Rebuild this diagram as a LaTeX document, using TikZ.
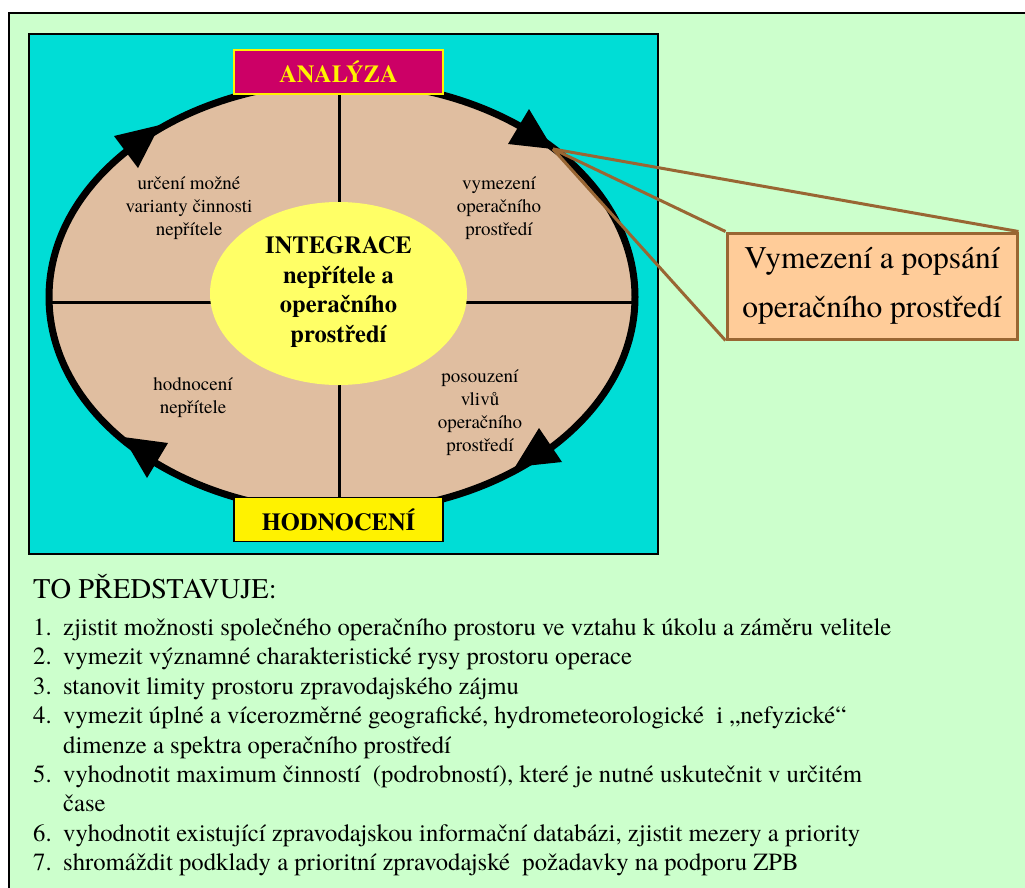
\documentclass[tikz,border=0pt]{standalone}
\usepackage{fontspec}
\setmainfont{TeX Gyre Termes}
\usetikzlibrary{shapes.geometric}
\definecolor{bggreen}{RGB}{204,255,204}
\definecolor{cyanbg}{RGB}{0,221,214}
\definecolor{peach}{RGB}{224,190,160}
\definecolor{lightyellow}{RGB}{255,255,102}
\definecolor{magentabox}{RGB}{204,0,102}
\definecolor{calloutfill}{RGB}{255,204,153}
\definecolor{brownline}{RGB}{153,102,51}
\begin{document}
\begin{tikzpicture}[x=1pt,y=-1pt,
  smalltxt/.style={align=center, font=\fontsize{19}{23}\selectfont, inner sep=0pt},
  boldtxt/.style={align=center, font=\fontsize{24.5}{29.7}\selectfont\bfseries, inner sep=0pt},
  listtxt/.style={anchor=base west, font=\fontsize{24.7}{29}\selectfont, inner sep=0pt},
  arrowhead/.style={fill=black},
  callline/.style={draw=brownline, line width=3pt},
  labelbox/.style={minimum width=209pt, minimum height=44pt, inner sep=0pt, line width=1.8pt, font=\fontsize{24.5}{28}\selectfont\bfseries}
]
\useasboundingbox (0,0) rectangle (1025,887);
\fill[white] (0,0) rectangle (1025,887);
\begin{scope}
  \clip (0,0) rectangle (1025,887);
  \draw[line width=1.5pt, fill=bggreen] (9,13) rectangle (1045,905);
\end{scope}
% cyan panel
\draw[line width=2.5pt, fill=cyanbg] (29,34) rectangle (658,554);
% big ellipse fill
\fill[peach] (342,297) ellipse [x radius=293pt, y radius=215pt];
% dividers
\draw[line width=3pt] (339,85) -- (339,510);
\draw[line width=3pt] (52,302) -- (632,302);
% inner yellow ellipse
\node[ellipse, fill=lightyellow, minimum width=257pt, minimum height=183pt, inner sep=0pt] (integ) at (338.5,293.5) {};
\node[boldtxt] (integtxt) at (338.5,292) {INTEGRACE\\nepřítele a\\operačního\\prostředí};
% ellipse outline
\draw[line width=7pt] (342,297) ellipse [x radius=293pt, y radius=215pt];
% arrowheads
\fill[arrowhead] (114,136) -- (160,125) -- (138,168) -- cycle;
\fill[arrowhead] (529,109) -- (553,149) -- (508,144) -- cycle;
\fill[arrowhead] (539,428) -- (562,462) -- (515,467) -- cycle;
\fill[arrowhead] (168,443) -- (147,478) -- (123,437) -- cycle;
% phase boxes
\node[labelbox, draw=yellow, fill=magentabox, text=yellow] (analyza) at (338.5,72) {ANALÝZA};
\node[labelbox, draw=black, fill=yellow, text=black] (hodnoceni) at (338.5,519.5) {HODNOCENÍ};
% quadrant texts
\node[smalltxt] (q1) at (189,208) {určení možné\\varianty činnosti\\nepřítele};
\node[smalltxt] (q2) at (499,208) {vymezení\\operačního\\prostředí};
\node[smalltxt] (q3) at (193,398) {hodnocení\\nepřítele};
\node[smalltxt] (q4) at (480,413) {posouzení\\vlivů\\operačního\\prostředí};
% callout
\coordinate (co) at (553,149);
\node[draw=brownline, fill=calloutfill, line width=3pt, minimum width=290pt, minimum height=106pt, inner sep=0pt, align=center, font=\fontsize{31.5}{49}\selectfont] (callout) at (872,286) {Vymezení a popsání\\operačního prostředí};
\draw[callline] (co) -- (callout.north east);
\draw[callline] (co) -- (callout.north west);
\draw[callline] (co) -- (callout.south west);
% bottom text
\node[anchor=base west, inner sep=0pt, font=\fontsize{28.5}{30}\selectfont] (title) at (33,598) {TO PŘEDSTAVUJE:};
\node[listtxt] (n1) at (33,635) {1.};
\node[listtxt] (t1) at (63,635) {zjistit možnosti společného operačního prostoru ve vztahu k úkolu a záměru velitele};
\node[listtxt] (n2) at (33,664) {2.};
\node[listtxt] (t2) at (63,664) {vymezit významné charakteristické rysy prostoru operace};
\node[listtxt] (n3) at (33,694) {3.};
\node[listtxt] (t3) at (63,694) {stanovit limity prostoru zpravodajského zájmu};
\node[listtxt] (n4) at (33,723) {4.};
\node[listtxt] (t4) at (63,723) {vymezit úplné a vícerozměrné geografické, hydrometeorologické\ \ i „nefyzické“};
\node[listtxt] (t4b) at (63,753) {dimenze a spektra operačního prostředí};
\node[listtxt] (n5) at (33,782) {5.};
\node[listtxt] (t5) at (63,782) {vyhodnotit maximum činností\ \ (podrobností), které je nutné uskutečnit v určitém};
\node[listtxt] (t5b) at (63,811) {čase};
\node[listtxt] (n6) at (33,841) {6.};
\node[listtxt] (t6) at (63,841) {vyhodnotit existující zpravodajskou informační databázi, zjistit mezery a priority};
\node[listtxt] (n7) at (33,870) {7.};
\node[listtxt] (t7) at (63,870) {shromáždit podklady a prioritní zpravodajské\ \ požadavky na podporu ZPB};
\end{tikzpicture}
\end{document}
